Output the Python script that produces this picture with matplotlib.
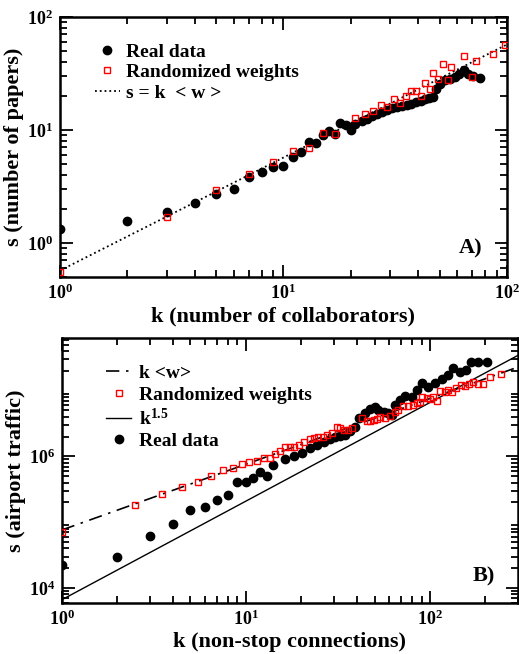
import numpy as np
import matplotlib
matplotlib.use('Agg')
import matplotlib.pyplot as plt
from matplotlib.ticker import LogLocator, NullFormatter, FixedLocator, FixedFormatter

plt.rcParams['font.family'] = ['Liberation Serif']
plt.rcParams['font.weight'] = 'bold'
plt.rcParams['axes.labelweight'] = 'bold'
plt.rcParams['mathtext.fontset'] = 'custom'
plt.rcParams['mathtext.rm'] = 'Liberation Serif:bold'
plt.rcParams['mathtext.bf'] = 'Liberation Serif:bold'
plt.rcParams['mathtext.it'] = 'Liberation Serif:bold'
plt.rcParams['mathtext.default'] = 'bf'

# ---- panel A: collaboration network ----
kA_real = [1, 2, 3, 4, 5, 6, 7, 8, 9, 10, 11, 12, 13, 14, 15, 16, 17, 18, 19, 20, 21,
           22.4, 23.6, 24.8, 26.1, 27.5, 29, 30.5, 32.1, 33.8, 35.6, 37.4, 39.4, 41.2, 43,
           44.9, 46.8, 48.4, 50.1, 52.8, 55.6, 58.5, 61.2, 64.2, 67.2, 70.2, 75.7]
sA_real = [1.34, 1.57, 1.87, 2.28, 2.7, 3.0, 3.8, 4.25, 4.7, 4.77, 5.78, 6.4, 7.8, 7.6, 9.0,
           9.7, 9.3, 11.6, 11.1, 10.0, 11.2, 12.0, 12.4, 13.2, 13.8, 14.5, 15.0, 15.5, 15.8,
           16.2, 16.6, 16.9, 17.5, 18.1, 18.8, 19.1, 19.7, 23.1, 25.6, 27.4, 28.3, 29.3, 31.4,
           33.6, 31.4, 29.9, 28.7]
kA_rand = [1, 3, 5, 7, 9, 11, 13, 15, 17, 21, 23.2, 25.2, 27.2, 29.2, 31.2, 33.2, 35.3,
           37.1, 39.2, 41.1, 43, 45.2, 46.8, 49.3, 51.9, 54.3, 56, 64.2, 70, 73.1, 86.9, 98]
sA_rand = [0.55, 1.68, 2.95, 4.07, 5.2, 6.5, 6.95, 9.46, 9.3, 12.7, 13.8, 14.8, 16.6, 15.8,
           18.8, 17.3, 20.1, 22.3, 22.3, 19.9, 25.9, 23.1, 32.1, 28.3, 38.0, 27.4, 36.1, 45.2,
           29.7, 40.5, 47.4, 56.2]
wA = 0.57  # <w>

# ---- panel B: airport network ----
kB_real = [1, 2, 3, 4, 5, 6, 7, 8, 9, 10, 11, 12, 13, 14, 16.3, 18.3, 20.3, 22.3, 24.4,
           26.5, 28.6, 30.6, 32.6, 34.7, 36.9, 39.3, 41.3, 44.5, 47.4, 50, 52.5, 56, 59, 62,
           64.7, 68.8, 73.3, 79.5, 84.7, 90.2, 97.8, 106, 116, 126, 134, 145, 158, 168, 182, 204]
sB_real = [2.26e4, 3.0e4, 6.1e4, 9.5e4, 1.51e5, 1.7e5, 2.19e5, 2.57e5, 4.03e5, 4.07e5,
           4.63e5, 5.71e5, 4.97e5, 7.46e5, 9.12e5, 1.02e6, 1.12e6, 1.34e6, 1.5e6, 1.66e6,
           1.86e6, 2.0e6, 2.04e6, 2.14e6, 2.4e6, 2.79e6, 3.8e6, 4.57e6, 5.25e6, 5.62e6,
           5.13e6, 4.68e6, 4.57e6, 4.27e6, 6.1e6, 7.24e6, 8.32e6, 7.94e6, 1.02e7, 1.32e7,
           1.15e7, 1.29e7, 1.48e7, 1.74e7, 2.19e7, 1.95e7, 2.09e7, 2.75e7, 2.75e7, 2.75e7]
kB_rand = [1, 2.49, 3.5, 4.49, 5.48, 6.47, 7.48, 8.47, 9.48, 10.4, 11.5, 12.5, 13.5, 14.4,
           15.3, 16.3, 17.3, 18.3, 19.4, 20.7, 22.2, 23.4, 24.7, 26.2, 27.6, 29.4, 31.3, 32.6,
           34.1, 35.9, 37.8, 42.7, 45.5, 47.4, 49.4, 51.5, 53.7, 57.1, 60.8, 64.7, 67.4, 71.8,
           76.4, 81.3, 84.7, 88.3, 90.9, 96, 100, 104, 109, 113, 120, 126, 131, 139, 148, 155,
           164, 171, 182, 194, 211, 244]
sB_rand = [7.0e4, 1.85e5, 2.69e5, 3.39e5, 4.07e5, 5.08e5, 6.12e5, 6.61e5, 7.76e5, 8.13e5,
           8.51e5, 9.55e5, 9.55e5, 1.07e6, 1.23e6, 1.37e6, 1.4e6, 1.41e6, 1.47e6, 1.65e6,
           1.83e6, 1.91e6, 2.0e6, 2.0e6, 2.09e6, 2.26e6, 2.79e6, 2.66e6, 2.48e6, 2.54e6,
           2.69e6, 3.82e6, 3.4e6, 3.4e6, 3.6e6, 3.73e6, 3.95e6, 3.78e6, 4.06e6, 4.67e6,
           5.13e6, 5.75e6, 5.89e6, 6.1e6, 6.46e6, 6.84e6, 8.13e6, 7.67e6, 7.4e6, 7.9e6, 7.0e6,
           1.0e7, 9.66e6, 1.02e7, 9.7e6, 1.08e7, 1.22e7, 1.17e7, 1.28e7, 1.36e7, 1.26e7,
           1.26e7, 1.6e7, 1.8e7]
wB = 7.6e4   # <w>
cB = 6.6e3   # prefactor of k^1.5


def style_axes(ax, xt, xl, yt, yl):
    ax.set_xscale('log')
    ax.set_yscale('log')
    for sp in ax.spines.values():
        sp.set_linewidth(1.8)
    ax.tick_params(which='both', direction='in', top=True, right=True, width=1.3)
    ax.tick_params(which='major', length=9, labelsize=13, pad=5)
    ax.tick_params(which='minor', length=5)
    ax.xaxis.set_major_locator(FixedLocator(xt))
    ax.xaxis.set_major_formatter(FixedFormatter(xl))
    ax.yaxis.set_major_locator(FixedLocator(yt))
    ax.yaxis.set_major_formatter(FixedFormatter(yl))
    ax.xaxis.set_minor_locator(LogLocator(base=10, subs=np.arange(2, 10), numticks=20))
    ax.yaxis.set_minor_locator(LogLocator(base=10, subs=np.arange(2, 10), numticks=20))
    ax.xaxis.set_minor_formatter(NullFormatter())
    ax.yaxis.set_minor_formatter(NullFormatter())


fig = plt.figure(figsize=(5.19, 6.54), dpi=100)

# panel A
ax1 = fig.add_axes([0.1156, 0.5765, 0.861, 0.3976])
kk = np.array([1, 100])
ax1.plot(kA_real, sA_real, 'o', color='black', ms=6, label='Real data', zorder=3)
ax1.plot(kA_rand, sA_rand, 's', mfc='none', mec='red', mew=1.0, ms=5,
         label='Randomized weights', zorder=4)
ax1.plot(kk, wA * kk, ':', color='black', lw=1.3, label=r's = k  < w >', zorder=2)
ax1.set_xlim(1, 100)
ax1.set_ylim(0.5, 100)
style_axes(ax1, [1, 10, 100], [r'$10^{0}$', r'$10^{1}$', r'$10^{2}$'],
           [1, 10, 100], [r'$10^{0}$', r'$10^{1}$', r'$10^{2}$'])
ax1.set_xlabel('k (number of collaborators)', fontsize=16, labelpad=2)
ax1.set_ylabel('s (number of papers)', fontsize=16, labelpad=2)
ax1.legend(loc='upper left', bbox_to_anchor=(0.06, 0.93), frameon=False, fontsize=14,
           handlelength=1.3, handletextpad=0.3, labelspacing=0.15, borderaxespad=0)
ax1.text(0.945, 0.11, 'A)', transform=ax1.transAxes, ha='right', va='center', fontsize=16)

# panel B
ax2 = fig.add_axes([0.119, 0.078, 0.8786, 0.405])
kk2 = np.array([1, 300])
ax2.plot(kk2, wB * kk2, color='black', lw=1.2, dashes=[8, 4, 1.5, 4],
         label=r'k <w>', zorder=2)
ax2.plot(kB_rand, sB_rand, 's', mfc='none', mec='red', mew=1.0, ms=5,
         label='Randomized weights', zorder=4)
ax2.plot(kk2, cB * kk2 ** 1.5, '-', color='black', lw=1.0, label=r'k$^{1.5}$', zorder=2)
ax2.plot(kB_real, sB_real, 'o', color='black', ms=6, label='Real data', zorder=3)
ax2.set_xlim(1, 300)
ax2.set_ylim(5.9e3, 6.3e7)
style_axes(ax2, [1, 10, 100], [r'$10^{0}$', r'$10^{1}$', r'$10^{2}$'],
           [1e4, 1e6], [r'$10^{4}$', r'$10^{6}$'])
ax2.set_xlabel('k (non-stop connections)', fontsize=16, labelpad=2)
ax2.set_ylabel('s (airport traffic)', fontsize=16, labelpad=2)
ax2.legend(loc='upper left', bbox_to_anchor=(0.08, 0.93), frameon=False, fontsize=14,
           handlelength=1.3, handletextpad=0.4, labelspacing=0.2, borderaxespad=0)
ax2.text(0.95, 0.1, 'B)', transform=ax2.transAxes, ha='right', va='center', fontsize=16)

fig.savefig('out.png', dpi=100)
